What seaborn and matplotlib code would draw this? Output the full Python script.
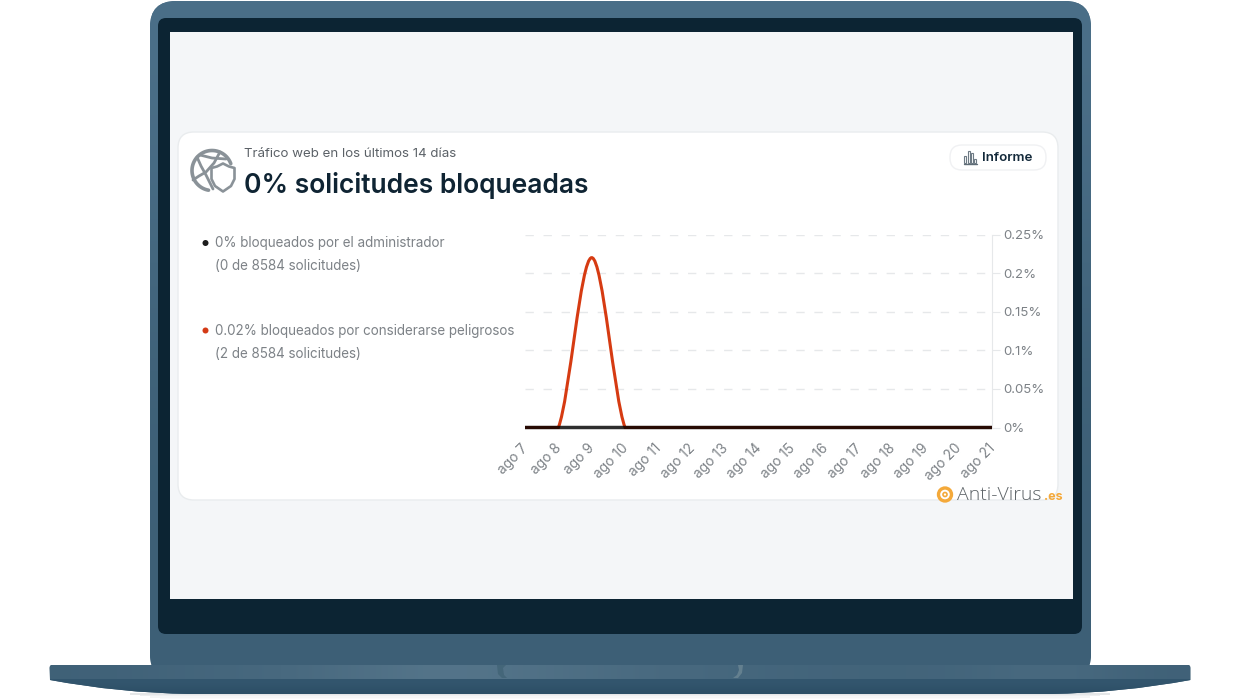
import numpy as np
import matplotlib
matplotlib.use("Agg")
import matplotlib.pyplot as plt
from matplotlib.patches import FancyBboxPatch, PathPatch, Circle, Polygon, Rectangle
from matplotlib.path import Path
from matplotlib.colors import LinearSegmentedColormap
from matplotlib.transforms import ScaledTranslation
import seaborn as sns

days = list(range(15))
day_labels = ["ago 7","ago 8","ago 9","ago 10","ago 11","ago 12","ago 13","ago 14",
              "ago 15","ago 16","ago 17","ago 18","ago 19","ago 20","ago 21"]
admin_blocked = [0]*15
danger_blocked = [0,0,0.22,0,0,0,0,0,0,0,0,0,0,0,0]
y_ticks = [0,0.05,0.1,0.15,0.2,0.25]
y_labels = ["0%","0.05%","0.1%","0.15%","0.2%","0.25%"]
title = "0% solicitudes bloqueadas"
subtitle = "Tráfico web en los últimos 14 días"
legend_admin = ["0% bloqueados por el administrador","(0 de 8584 solicitudes)"]
legend_danger = ["0.02% bloqueados por considerarse peligrosos","(2 de 8584 solicitudes)"]

W,H = 1240,700
sns.set_theme(style="white")
plt.rcParams['font.family'] = ['Inter','DejaVu Sans']
fig = plt.figure(figsize=(W/100,H/100),dpi=100,facecolor="white")
bg = fig.add_axes([0,0,1,1],zorder=0)
bg.set_xlim(0,W); bg.set_ylim(H,0); bg.axis("off")

def rbox(x0,y0,x1,y1,r,**kw):
    p = FancyBboxPatch((x0+r,y0+r),x1-x0-2*r,y1-y0-2*r,boxstyle=f"round,pad={r},rounding_size={r}",**kw)
    bg.add_patch(p); return p

# soft shadow under base
for i,a in enumerate([0.16,0.10,0.06,0.03]):
    bg.add_patch(Rectangle((130+i*10,693+i*1.5),980-i*20,1.6,fc="#606a72",ec="none",alpha=a,zorder=0.3))
# lid
lid = rbox(150,1,1091,680,26,fc="#44677f",ec="none",zorder=0.5)
cm = LinearSegmentedColormap.from_list("b",["#3c5e75","#4b6f88"])
im = bg.imshow(np.array([[1.0],[0.55],[0.1],[0.1]]),extent=(150,1091,680,1),cmap=cm,aspect="auto",vmin=0,vmax=1,interpolation="bicubic",zorder=0.6)
im.set_clip_path(lid)
rbox(158,18,1082,634,8,fc="#0c2433",ec="none")
bg.add_patch(Rectangle((170,32),903,567,fc="#f4f6f8",ec="none"))
# base
c = Path.CURVE3
base_path = Path([(52,665),(1188,665),(1190.5,665),(1190.5,668),(1190.5,680),(1120,693),(1050,694),(190,694),(120,693),(50,680),(49.5,668),(49.5,665),(52,665)],
                 [Path.MOVETO,Path.LINETO,c,c,Path.LINETO,c,c,Path.LINETO,c,c,Path.LINETO,c,c])
base = PathPatch(base_path,fc="#31546b",ec="none",zorder=0.7)
bg.add_patch(base)
cm2 = LinearSegmentedColormap.from_list("c",["#3a5c73","#56768b"])
top_band = np.array([[0.2,0.35,0.45,0.7,1,0.8,0.6,0.45,0.35,0.3,0.35,0.6,0.2]])
im2 = bg.imshow(top_band,extent=(50,1190,679,665),cmap=cm2,aspect="auto",vmin=0,vmax=1,interpolation="bicubic",zorder=0.8)
im2.set_clip_path(base)
cm3 = LinearSegmentedColormap.from_list("d",["#2c4e65","#33566e"])
im3 = bg.imshow(np.array([[1],[0.7],[0.1]]),extent=(50,1190,694,679),cmap=cm3,aspect="auto",vmin=0,vmax=1,interpolation="bicubic",zorder=0.8)
im3.set_clip_path(base)
bg.add_patch(Polygon([(497,665),(506,665),(503,668),(504,675),(507,678),(502,678),(498,674)],closed=True,fc="#446679",ec="none"))
bg.add_patch(Polygon([(743,665),(738,665),(739,670),(737,675),(733,678),(738,678),(742,673)],closed=True,fc="#64808f",ec="none"))
bg.set_xlim(0,W); bg.set_ylim(H,0)
# card
rbox(178,132,1058,500,16,fc="white",ec="#e9ecee",lw=1)
# button
rbox(950,145,1046,170,12,fc="white",ec="#f0f1f3",lw=1)
for x,h in zip([965,968.5,972,975],[7,12,10,4]):
    bg.add_patch(Rectangle((x-1,163-h),2.4,h,fc="none",ec="#6d7a84",lw=0.8))
bg.plot([964,977],[163.5,163.5],color="#5f6d77",lw=1)
bg.text(982,157.8,"Informe",fontsize=9.6,fontweight="semibold",color="#13293a",va="center")
# globe / shield icon
gc="#8a9298"
t = np.radians(np.arange(20,262,4))
bg.plot(212+20*np.cos(t),170.5-20*np.sin(t),color=gc,lw=2.6,solid_capstyle="round")
bg.plot([197,201,206,213],[157,166,175,189],color=gc,lw=2)
bg.plot([193,199,206,214,220],[180,176,172,163,152],color=gc,lw=2)
bg.plot([200,212,226],[155,158,159],color=gc,lw=2)
shield = [(223,163.5),(229,166.5),(234.5,168),(234.5,179),(231,186),(223,191.5),(215,186),(211.5,179),(211.5,168),(217,166.5)]
bg.add_patch(Polygon(shield,closed=True,fc="white",ec="white",lw=4.5))
bg.add_patch(Polygon(shield,closed=True,fc="white",ec=gc,lw=1.9,joinstyle="round"))
# texts
bg.text(244,154.3,subtitle,fontsize=9.55,color="#5b6167",va="center")
bg.text(244,185.8,title,fontsize=19,fontweight="semibold",color="#0f2433",va="center")
tc="#7d8287"
bg.add_patch(Circle((205.5,243),3,fc="#1d1d1d",ec="none"))
bg.add_patch(Circle((205.5,330.5),3,fc="#d43a16",ec="none"))
for (y,t_) in zip([243,266,331,354.5],legend_admin+legend_danger):
    bg.text(215,y,t_,fontsize=9.7,color=tc,va="center")
# watermark
bg.add_patch(Circle((945,494.5),6.5,fc="none",ec="#f4a93a",lw=2.4))
bg.add_patch(Circle((945,494.5),2,fc="none",ec="#f4a93a",lw=1.2))
bg.text(957,494.5,"Anti-Virus",fontsize=14,color="#5e6468",va="center",family="Open Sans",fontweight="light")
bg.text(1044,497,".es",fontsize=9,color="#f4a93a",va="center",fontweight="bold")

# chart
x0,x1,ytop,ybot = 525,992,234.5,427.5
ax = fig.add_axes([x0/W,1-ybot/H,(x1-x0)/W,(ybot-ytop)/H],zorder=1)
ax.patch.set_alpha(0)
sns.lineplot(x=days,y=danger_blocked,ax=ax,color="#d63b12",linewidth=2.2,zorder=3,legend=False)
red = ax.get_lines()[0]
xs,ys = np.asarray(red.get_xdata(),float),np.asarray(red.get_ydata(),float)
red.remove()
# smooth curve through the daily values (cardinal spline; flat runs stay flat)
verts=[(xs[0],ys[0])]; codes=[Path.MOVETO]
for i in range(len(xs)-1):
    if ys[i]==ys[i+1]:
        verts.append((xs[i+1],ys[i+1])); codes.append(Path.LINETO); continue
    m0 = 0.5*(ys[i+1]-ys[i-1]) if i>0 else 0
    m1 = 0.5*(ys[i+2]-ys[i]) if i<len(xs)-2 else 0
    verts += [(xs[i]+1/3,ys[i]+m0/3),(xs[i+1]-1/3,ys[i+1]-m1/3),(xs[i+1],ys[i+1])]
    codes += [Path.CURVE4]*3
red_patch = PathPatch(Path(verts,codes),fc="none",ec="#d63b12",lw=2.2,zorder=3,capstyle="butt",clip_on=False)
red_patch.set_snap(False)
ax.add_patch(red_patch)
sns.lineplot(x=days,y=admin_blocked,ax=ax,color="black",alpha=0.82,linewidth=2.5,zorder=4,legend=False)
for ln in ax.get_lines():
    ln.set_clip_on(False); ln.set_solid_capstyle("butt"); ln.set_snap(False)
ax.set_xlim(0,14); ax.set_ylim(0,0.25)
ax.set_xlabel(""); ax.set_ylabel("")
for s in ["top","left","bottom"]: ax.spines[s].set_visible(False)
ax.spines["right"].set_color("#e6e8ea"); ax.spines["right"].set_linewidth(0.8)
ax.yaxis.tick_right()
ax.set_yticks(y_ticks); ax.set_yticklabels(y_labels,fontsize=9.5,color=tc)
ax.tick_params(axis="y",length=5.5,width=0.8,color="#e6e8ea",pad=2.5,right=True,left=False)
ax.set_xticks(days); ax.set_xticklabels(day_labels,fontsize=9.9,color=tc,rotation=45,ha="right",va="top",rotation_mode="anchor")
ax.tick_params(axis="x",length=0,pad=7,bottom=True)
off = ScaledTranslation(-4/100,-4/100,fig.dpi_scale_trans)
for lab in ax.get_xticklabels():
    lab.set_transform(lab.get_transform()+off)
ax.grid(axis="y",color="#e6e8ea",lw=1,linestyle=(0,(6,7)),zorder=0)
ax.grid(axis="x",visible=False)
fig.savefig("out.png",dpi=100)
